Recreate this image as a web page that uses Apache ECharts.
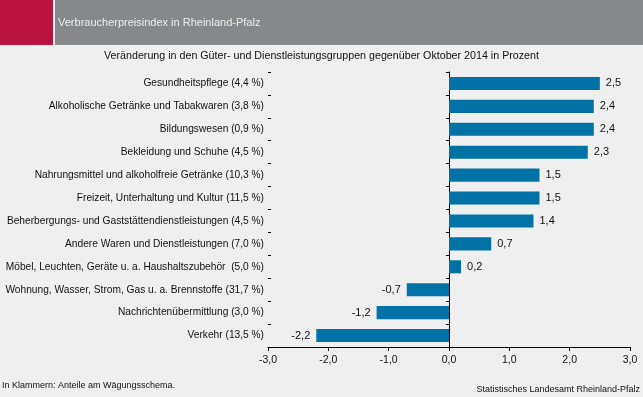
<!DOCTYPE html>
<html>
<head>
<meta charset="utf-8">
<script src="https://cdn.jsdelivr.net/npm/echarts@6/dist/echarts.min.js"></script>
<style>
  html, body { margin: 0; padding: 0; background: #eeefee; }
  #chart { width: 643px; height: 397px; }
</style>
</head>
<body>
<div id="chart"></div>
<script>
// Kategorien (von oben nach unten)
var categories = [
  'Gesundheitspflege (4,4 %)',
  'Alkoholische Getränke und Tabakwaren (3,8 %)',
  'Bildungswesen (0,9 %)',
  'Bekleidung und Schuhe (4,5 %)',
  'Nahrungsmittel und alkoholfreie Getränke (10,3 %)',
  'Freizeit, Unterhaltung und Kultur (11,5 %)',
  'Beherbergungs- und Gaststättendienstleistungen (4,5 %)',
  'Andere Waren und Dienstleistungen (7,0 %)',
  'Möbel, Leuchten, Geräte u. a. Haushaltszubehör  (5,0 %)',
  'Wohnung, Wasser, Strom, Gas u. a. Brennstoffe (31,7 %)',
  'Nachrichtenübermittlung (3,0 %)',
  'Verkehr (13,5 %)'
];
// Veränderung in Prozent
var values = [2.5, 2.4, 2.4, 2.3, 1.5, 1.5, 1.4, 0.7, 0.2, -0.7, -1.2, -2.2];
// x-Achse
var xMin = -3;
var xMax = 3;
var xStep = 1;

var fontFam = '"Liberation Sans", Arial, sans-serif';
function komma(v, d) { return v.toFixed(d).replace('.', ','); }

var chart = echarts.init(document.getElementById('chart'));

var option = {
  backgroundColor: '#eeefee',
  animation: false,
  textStyle: { fontFamily: fontFam },
  graphic: [
    { type: 'rect', left: 0, top: 0, shape: { width: 53, height: 45 }, style: { fill: '#b8133f' } },
    { type: 'rect', left: 55, top: 0, shape: { width: 588, height: 45 }, style: { fill: '#878889' } },
    { type: 'text', left: 58, top: 17, style: { text: 'Verbraucherpreisindex in Rheinland-Pfalz', fill: '#eceeee', font: '11px ' + fontFam } },
    { type: 'text', left: 'center', top: 51, style: { text: 'Veränderung in den Güter- und Dienstleistungsgruppen gegenüber Oktober 2014 in Prozent', fill: '#111', font: '10.7px ' + fontFam } },
    { type: 'text', left: 2, top: 381, style: { text: 'In Klammern: Anteile am Wägungsschema.', fill: '#111', font: '9px ' + fontFam } },
    { type: 'text', right: 3, top: 385, style: { text: 'Statistisches Landesamt Rheinland-Pfalz', fill: '#111', font: '9px ' + fontFam } }
  ],
  grid: { left: 268, right: 13, top: 72, bottom: 50 },
  xAxis: {
    type: 'value',
    min: xMin,
    max: xMax,
    interval: xStep,
    splitLine: { show: false },
    axisLine: { show: true, onZero: false, lineStyle: { color: '#000', width: 1 } },
    axisTick: { show: true, length: 4, lineStyle: { color: '#000' } },
    axisLabel: { color: '#111', fontSize: 10.5, margin: 8, formatter: function (v) { return komma(v, 1); } }
  },
  yAxis: [
    {
      type: 'category',
      data: categories,
      inverse: true,
      position: 'left',
      axisLine: { show: false, onZero: false },
      axisTick: { show: false },
      axisLabel: { color: '#111', fontSize: 10.2, margin: 4 }
    },
    {
      type: 'category',
      data: categories,
      inverse: true,
      position: 'left',
      axisLine: { show: true, onZero: true, lineStyle: { color: '#000', width: 1 } },
      axisTick: { show: true, inside: false, length: 3, lineStyle: { color: '#000' } },
      axisLabel: { show: false }
    },
    {
      type: 'category',
      data: categories,
      inverse: true,
      position: 'left',
      axisLine: { show: false, onZero: true },
      axisTick: { show: true, inside: true, length: 3, lineStyle: { color: '#000' } },
      axisLabel: { show: false }
    }
  ],
  series: [
    {
      type: 'bar',
      yAxisIndex: 0,
      data: values.map(function (v) {
        return {
          value: v,
          label: { position: v < 0 ? 'left' : 'right' }
        };
      }),
      barCategoryGap: '43%',
      itemStyle: { color: '#0072a5' },
      label: {
        show: true,
        color: '#111',
        fontSize: 11,
        distance: 6,
        formatter: function (p) { return komma(p.value, 1); }
      }
    }
  ]
};

chart.setOption(option);
</script>
</body>
</html>
